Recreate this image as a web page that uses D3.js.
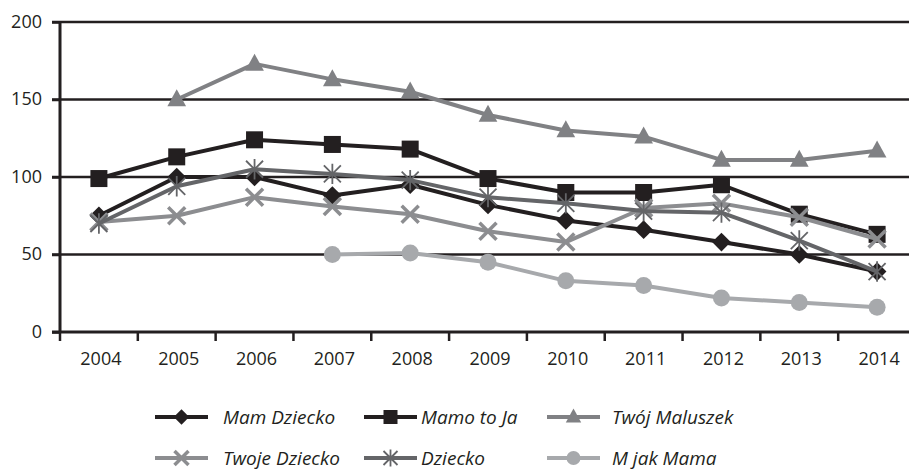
<!DOCTYPE html>
<html><head><meta charset="utf-8">
<script src="https://cdn.jsdelivr.net/npm/d3@7"></script>
<style>body{margin:0;background:#fff}svg{display:block}text{font-family:"Open Sans",sans-serif;fill:#231f20}</style>
</head><body><svg id="c" width="909" height="472"></svg>
<script>
const years = ["2004","2005","2006","2007","2008","2009","2010","2011","2012","2013","2014"];
const yTicks = [0,50,100,150,200];
const seriesNames = ["Mam Dziecko","Mamo to Ja","Twój Maluszek","Twoje Dziecko","Dziecko","M jak Mama"];
const mamDziecko   = [75,100,100,88,95,82,72,66,58,50,39];
const mamoToJa     = [99,113,124,121,118,99,90,90,95,76,63];
const twojMaluszek = [null,150,173,163,155,140,130,126,111,111,117];
const twojeDziecko = [71,75,87,81,76,65,58,80,83,74,60];
const dziecko      = [70,94,105,102,98,87,83,78,77,59,39];
const mJakMama     = [null,null,null,50,51,45,33,30,22,19,16];

const seriesValues = [mamDziecko, mamoToJa, twojMaluszek, twojeDziecko, dziecko, mJakMama];
const styles = [
  {color:"#231f20", marker:"diamond"},
  {color:"#231f20", marker:"square"},
  {color:"#808184", marker:"triangle"},
  {color:"#8c8d90", marker:"x"},
  {color:"#646568", marker:"asterisk"},
  {color:"#a7a9ac", marker:"circle"}
];

const svg = d3.select("#c");
const x = d3.scaleBand().domain(years).range([60, 916]).padding(0);
const y = d3.scaleLinear().domain([0,200]).range([332, 22]);
const cx = d => x(d) + x.bandwidth()/2;

// gridlines
svg.append("g").selectAll("line").data(yTicks.filter(t=>t>0)).join("line")
  .attr("x1", 52).attr("x2", 909).attr("y1", d=>y(d)).attr("y2", d=>y(d))
  .attr("stroke", "#231f20").attr("stroke-width", 2.5);

// y axis
const yAxis = d3.axisLeft(y).tickValues(yTicks).tickSize(8).tickPadding(10);
const gy = svg.append("g").attr("transform","translate(60,0)").call(yAxis);
gy.select(".domain").attr("stroke","#231f20").attr("stroke-width",3).attr("d","M0,22V333");
gy.selectAll(".tick line").attr("stroke","#231f20").attr("stroke-width",2.5);
gy.selectAll(".tick text").attr("font-size",18).attr("font-family","Open Sans").attr("fill","#231f20").attr("dy","0.3em");

// x axis
const xAxis = d3.axisBottom(x).tickSize(0).tickPadding(20);
const gx = svg.append("g").attr("transform","translate(0,332)").call(xAxis);
gx.select(".domain").attr("stroke","#231f20").attr("stroke-width",3).attr("d","M52,0H909");
gx.selectAll(".tick text").attr("font-size",18).attr("font-family","Open Sans").attr("fill","#231f20").attr("dx","2");
// band boundary ticks
gx.append("g").selectAll("line").data(years).join("line")
  .attr("x1", d=>x(d)).attr("x2", d=>x(d)).attr("y1",0).attr("y2",9)
  .attr("stroke","#231f20").attr("stroke-width",2.5);

function drawMarker(g, type, color, s) {
  if (type==="diamond") g.append("path").attr("d",`M0,${-s*0.55}L${s*0.55},0L0,${s*0.55}L${-s*0.55},0Z`).attr("fill",color);
  else if (type==="square") g.append("rect").attr("x",-s/2).attr("y",-s/2).attr("width",s).attr("height",s).attr("fill",color);
  else if (type==="triangle") g.append("path").attr("d",`M0,${-s*0.6}L${s*0.55},${s*0.4}L${-s*0.55},${s*0.4}Z`).attr("fill",color);
  else if (type==="circle") g.append("circle").attr("r",s/2).attr("fill",color);
  else if (type==="x") g.append("path").attr("d",`M${-s/2},${-s/2}L${s/2},${s/2}M${s/2},${-s/2}L${-s/2},${s/2}`).attr("stroke",color).attr("stroke-width",3.5);
  else if (type==="asterisk") g.append("path").attr("d",`M${-s/2},${-s/2}L${s/2},${s/2}M${s/2},${-s/2}L${-s/2},${s/2}M0,${-s*0.6}V${s*0.6}`).attr("stroke",color).attr("stroke-width",1.8);
}

const line = d3.line().defined(d=>d.v!=null).x(d=>cx(d.year)).y(d=>y(d.v));
seriesValues.forEach((vals,i)=>{
  const pts = years.map((yr,j)=>({year:yr, v:vals[j]}));
  const g = svg.append("g");
  g.append("path").datum(pts).attr("d",line).attr("fill","none")
    .attr("stroke",styles[i].color).attr("stroke-width",4).attr("stroke-linejoin","round");
  pts.filter(p=>p.v!=null).forEach(p=>{
    const mg = g.append("g").attr("transform",`translate(${cx(p.year)},${y(p.v)})`);
    drawMarker(mg, styles[i].marker, styles[i].color, 17);
  });
});

// legend
const legCols = [{lx:155, tx:223},{lx:364, tx:421},{lx:547, tx:612}];
const legRows = [417, 458];
seriesNames.forEach((name,i)=>{
  const col = legCols[i%3], row = legRows[Math.floor(i/3)];
  const g = svg.append("g");
  g.append("line").attr("x1",col.lx).attr("x2",col.lx+53).attr("y1",row).attr("y2",row)
    .attr("stroke",styles[i].color).attr("stroke-width",4);
  const mg = g.append("g").attr("transform",`translate(${col.lx+26.5},${row})`);
  drawMarker(mg, styles[i].marker, styles[i].color, 14);
  g.append("text").attr("x",col.tx).attr("y",row).attr("dy","0.35em")
    .attr("font-size",19).attr("font-style","italic").text(name);
});
</script></body></html>
